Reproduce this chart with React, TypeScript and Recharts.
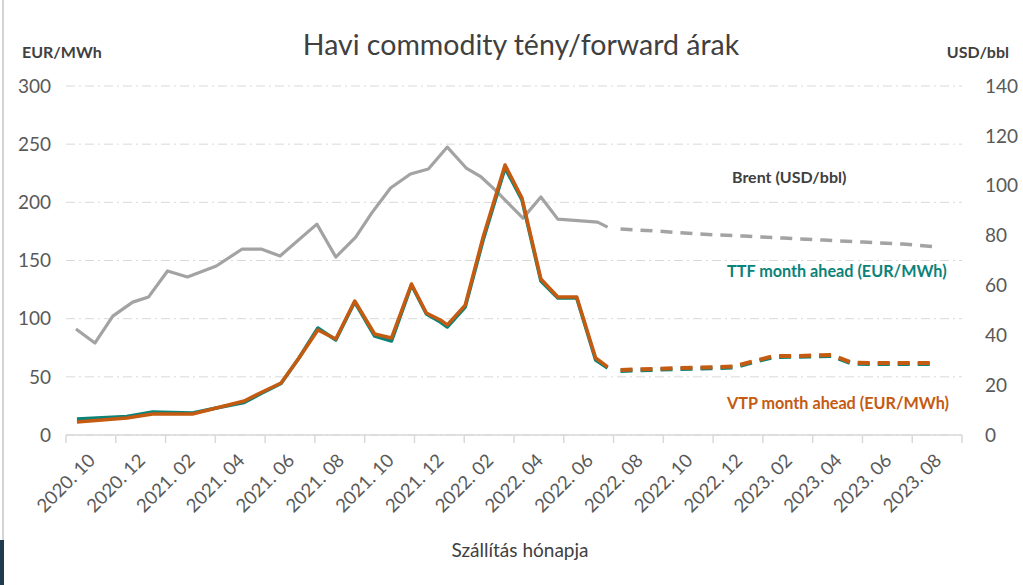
import React from 'react';
import { LineChart, Line, XAxis, YAxis, CartesianGrid } from 'recharts';

// labels under every second month (centred between the tick marks)
const monthLabels = [
  '2020. 10', '2020. 12', '2021. 02', '2021. 04', '2021. 06', '2021. 08',
  '2021. 10', '2021. 12', '2022. 02', '2022. 04', '2022. 06', '2022. 08',
  '2022. 10', '2022. 12', '2023. 02', '2023. 04', '2023. 06', '2023. 08',
];

const leftTicks = [0, 50, 100, 150, 200, 250, 300];
const rightTicks = [0, 20, 40, 60, 80, 100, 120, 140];

// month position on the axis (0 = start of 2020.10)
const brentActualPos = [0.4, 1.16, 1.88, 2.68, 3.32, 4.08, 4.88, 6.04, 7.08, 7.84, 8.6, 10.08, 10.84, 11.64, 12.28, 13.04, 13.84, 14.56, 15.32, 15.68, 16.08, 16.68, 17.24, 18.36, 19.08, 19.76, 21.36, 21.76];
const brentActual = [42.5, 36.9, 47.7, 53.3, 55.4, 65.8, 63.4, 67.8, 74.6, 74.6, 71.8, 84.6, 71.4, 79.4, 89.0, 99.1, 104.7, 106.7, 115.5, 111.5, 107.1, 103.5, 98.3, 87.0, 95.5, 86.6, 85.4, 83.4];

const brentFwdPos = [22.28, 23.76, 25.48, 27.24, 28.84, 30.44, 32.04, 33.64, 35.04];
const brentFwd = [82.6, 81.8, 80.6, 79.8, 79.0, 78.2, 77.4, 76.6, 75.4];

const gasActualPos = [0.44, 2.44, 3.48, 5.08, 6.04, 7.16, 7.88, 8.64, 9.36, 10.12, 10.84, 11.6, 12.4, 13.08, 13.88, 14.48, 15.04, 15.32, 16.04, 16.76, 17.64, 18.32, 19.08, 19.76, 20.52, 21.28, 21.76];
const ttfActual = [13.8, 16.0, 19.8, 18.9, 23.2, 27.9, 36.1, 44.3, 66.2, 92.0, 81.7, 114.3, 85.1, 80.8, 128.9, 104.0, 97.1, 92.8, 110.0, 167.6, 229.5, 202.0, 132.4, 117.8, 117.8, 64.5, 57.6];
const vtpActual = [11.2, 14.6, 18.1, 18.1, 23.2, 29.2, 37.0, 44.7, 66.2, 90.3, 82.5, 115.2, 86.8, 83.4, 129.8, 104.9, 98.9, 94.6, 111.7, 170.2, 232.1, 203.7, 134.1, 118.6, 118.6, 66.2, 58.5];

const gasFwdPos = [22.28, 24.68, 26.28, 26.84, 27.64, 28.44, 29.24, 30.04, 30.76, 31.56, 32.36, 34.88];
const ttfFwd = [55.0, 56.8, 57.6, 58.0, 62.8, 67.0, 67.2, 67.5, 68.0, 61.5, 61.0, 61.0];
const vtpFwd = [55.9, 57.6, 58.5, 58.9, 63.6, 67.9, 67.9, 68.3, 68.8, 62.3, 61.9, 61.9];

const toPoints = (pos: number[], vals: number[]) => pos.map((m, i) => ({ m, v: vals[i] }));

const FONT = 'Lato, "Open Sans", sans-serif';
const GREY = '#a3a3a3';
const TEAL = '#0b8379';
const ORANGE = '#c55a11';
const TEXT = '#404040';

const xTicks = Array.from({ length: 37 }, (_, i) => i);

const MonthTick = (props: any) => {
  const { x, y, payload } = props;
  const k = payload.value;
  if (k % 2 === 0) {
    return <line x1={x} y1={y} x2={x} y2={y + 8} stroke="#d9d9d9" strokeWidth={1.5} />;
  }
  const label = monthLabels[(k - 1) / 2];
  const ax = x + 1;
  const ay = y + 22;
  return (
    <text x={ax} y={ay} dy="0.35em" textAnchor="end" transform={`rotate(-45 ${ax} ${ay})`}
      fontSize={18.5} fill="#595959" fontFamily={FONT}>
      {label}
    </text>
  );
};

export default function App() {
  return (
    <div style={{ position: 'relative', width: 1023, height: 585, background: '#fff', fontFamily: FONT }}>
      <style>{'body{margin:0}'}</style>
      <div style={{ position: 'absolute', left: 2, top: 0, width: 2, height: 540, background: '#d4d4d4' }} />
      <div style={{ position: 'absolute', left: 0, top: 540, width: 4, height: 45, background: '#1f3b50' }} />
      <LineChart width={1023} height={585} margin={{ top: 86, right: 0, bottom: 0, left: 0 }}>
        <CartesianGrid yAxisId="left" vertical={false} stroke="#d9d9d9" strokeDasharray="9 4 2 4" />
        <XAxis
          type="number"
          dataKey="m"
          domain={[0, 36]}
          ticks={xTicks}
          interval={0}
          height={150}
          tickSize={0}
          tickMargin={0}
          tickLine={false}
          axisLine={{ stroke: '#d9d9d9', strokeWidth: 1.5 }}
          tick={<MonthTick />}
          allowDataOverflow
        />
        <YAxis
          yAxisId="left"
          width={66}
          domain={[0, 300]}
          ticks={leftTicks}
          axisLine={false}
          tickLine={false}
          tickMargin={9}
          tick={{ fontSize: 19, fill: '#595959', fontFamily: FONT }}
        />
        <YAxis
          yAxisId="right"
          orientation="right"
          width={61}
          domain={[0, 140]}
          ticks={rightTicks}
          axisLine={false}
          tickLine={false}
          tickMargin={17}
          tick={{ fontSize: 19, fill: '#595959', fontFamily: FONT, textAnchor: 'start' }}
        />
        <Line yAxisId="right" data={toPoints(brentActualPos, brentActual)} dataKey="v" stroke={GREY} strokeWidth={3.2} dot={false} isAnimationActive={false} strokeLinejoin="round" />
        <Line yAxisId="right" data={toPoints(brentFwdPos, brentFwd)} dataKey="v" stroke={GREY} strokeWidth={3.5} strokeDasharray="12 8" dot={false} isAnimationActive={false} />
        <Line yAxisId="left" data={toPoints(gasActualPos, ttfActual)} dataKey="v" stroke={TEAL} strokeWidth={3.5} dot={false} isAnimationActive={false} strokeLinejoin="round" />
        <Line yAxisId="left" data={toPoints(gasFwdPos, ttfFwd)} dataKey="v" stroke={TEAL} strokeWidth={4} strokeDasharray="12 8" dot={false} isAnimationActive={false} />
        <Line yAxisId="left" data={toPoints(gasActualPos, vtpActual)} dataKey="v" stroke={ORANGE} strokeWidth={3.5} dot={false} isAnimationActive={false} strokeLinejoin="round" />
        <Line yAxisId="left" data={toPoints(gasFwdPos, vtpFwd)} dataKey="v" stroke={ORANGE} strokeWidth={4} strokeDasharray="12 8" dot={false} isAnimationActive={false} />
      </LineChart>
      <svg width={1023} height={585} style={{ position: 'absolute', left: 0, top: 0, pointerEvents: 'none' }}>
        <g fontFamily={FONT}>
          <text x={521} y={55} textAnchor="middle" fontSize={28.5} fill={TEXT}>Havi commodity tény/forward árak</text>
          <text x={22} y={58} fontSize={16} fontWeight="bold" fill={TEXT}>EUR/MWh</text>
          <text x={1009} y={58} textAnchor="end" fontSize={16} fontWeight="bold" fill={TEXT}>USD/bbl</text>
          <text x={732} y={183} fontSize={16} fontWeight="bold" fill={TEXT}>Brent (USD/bbl)</text>
          <text x={727} y={277} fontSize={16.2} fontWeight="bold" fill={TEAL}>TTF month ahead (EUR/MWh)</text>
          <text x={727} y={409} fontSize={16.2} fontWeight="bold" fill={ORANGE}>VTP month ahead (EUR/MWh)</text>
          <text x={520} y={557} textAnchor="middle" fontSize={19} fill={TEXT}>Szállítás hónapja</text>
        </g>
      </svg>
    </div>
  );
}
